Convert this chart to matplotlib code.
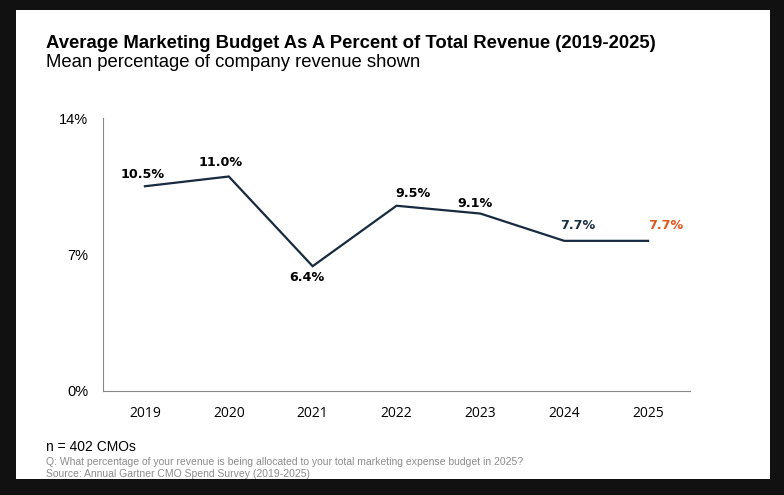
import matplotlib
matplotlib.use("Agg")
import matplotlib.pyplot as plt
from matplotlib.patches import Rectangle

years = ["2019", "2020", "2021", "2022", "2023", "2024", "2025"]
values = [10.5, 11.0, 6.4, 9.5, 9.1, 7.7, 7.7]
label_texts = ["10.5%", "11.0%", "6.4%", "9.5%", "9.1%", "7.7%", "7.7%"]
label_colors = ["#000000", "#000000", "#000000", "#000000", "#000000", "#1B2F45", "#E2571E"]
# label centre offsets from the point, in pixels (dx right, dy up)
label_offsets_px = [(-2, 12), (-8, 14), (-6, -11), (16, 12), (-5, 10), (14, 15), (18, 15)]
yticks = [0, 7, 14]
ytick_labels = ["0%", "7%", "14%"]

W, H = 784, 495
DPI = 100
fig = plt.figure(figsize=(W / DPI, H / DPI), dpi=DPI, facecolor="#111111")
fig.patches.append(Rectangle((16 / W, 1 - 479 / H), (770 - 16) / W, (479 - 10) / H,
                             transform=fig.transFigure, facecolor="white",
                             edgecolor="none", zorder=-10))

ax = fig.add_axes([103 / W, 1 - 391 / H, (690 - 103) / W, (391 - 118) / H])
ax.set_zorder(5)
ax.set_facecolor("none")
x = list(range(len(years)))
ax.plot(x, values, color="#172A40", lw=1.6, solid_joinstyle="miter")
ax.set_xlim(-0.5, len(years) - 0.5)
ax.set_ylim(0, 14)
ax.set_yticks(yticks)
ax.set_yticklabels(ytick_labels, fontfamily="Liberation Sans", fontsize=10.5)
ax.set_xticks(x)
ax.set_xticklabels(years, fontfamily="Open Sans", fontsize=10)
ax.tick_params(axis="both", length=0)
ax.tick_params(axis="y", pad=10.8)
ax.tick_params(axis="x", pad=10.5)
for s in ["top", "right"]:
    ax.spines[s].set_visible(False)
ax.spines["left"].set_color("#888888")
ax.spines["bottom"].set_color("#888888")
ax.spines["left"].set_linewidth(0.8)
ax.spines["bottom"].set_linewidth(0.8)

px2pt = 72 / DPI
for xi, v, t, c, off in zip(x, values, label_texts, label_colors, label_offsets_px):
    ax.annotate(t, (xi, v), xytext=(off[0] * px2pt, off[1] * px2pt), textcoords="offset points",
                ha="center", va="center", fontsize=9.2, fontweight="bold",
                color=c, fontfamily="DejaVu Sans")

fig.text(46 / W, 1 - 43 / H, "Average Marketing Budget As A Percent of Total Revenue (2019-2025)",
         fontfamily="Liberation Sans", fontweight="bold", fontsize=13.3, va="center", ha="left")
fig.text(46 / W, 1 - 63 / H, "Mean percentage of company revenue shown",
         fontfamily="Liberation Sans", fontsize=13.3, va="center", ha="left")
fig.text(46 / W, 1 - 447 / H, "n = 402 CMOs", fontfamily="Liberation Sans", fontsize=10,
         va="center", ha="left")
fig.text(46 / W, 1 - 462 / H,
         "Q: What percentage of your revenue is being allocated to your total marketing expense budget in 2025?",
         fontfamily="Liberation Sans", fontsize=7.45, color="#8C8C8C", va="center", ha="left")
fig.text(46 / W, 1 - 474 / H, "Source: Annual Gartner CMO Spend Survey (2019-2025)",
         fontfamily="Liberation Sans", fontsize=7.45, color="#8C8C8C", va="center", ha="left")

fig.savefig("out.png", dpi=DPI, facecolor=fig.get_facecolor())
